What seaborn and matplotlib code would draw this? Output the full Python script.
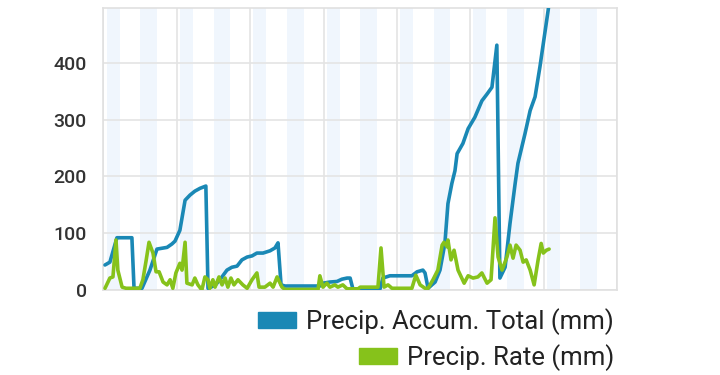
import matplotlib
matplotlib.use('Agg')
import matplotlib.pyplot as plt
from matplotlib.patches import Patch
import pandas as pd
import seaborn as sns

# hours since start of the week
accum_hours = [0.5, 2.1, 4.4, 9.3, 10.0, 12.6, 15.2, 17.5, 20.8, 22.4, 23.4, 25.0, 26.7, 28.3,
               29.9, 31.6, 33.5, 34.2, 36.5, 38.1, 40.4, 42.0, 43.7, 45.3, 47.0, 48.6, 50.2,
               52.2, 54.5, 56.1, 57.1, 58.1, 59.4, 70.8, 71.8, 74.1, 76.4, 78.0, 79.7, 80.7,
               81.6, 90.5, 91.4, 93.7, 100.9, 102.6, 104.5, 105.2, 106.2, 108.5, 110.1, 111.7,
               112.7, 114.0, 115.0, 115.7, 117.6, 119.3, 121.5, 123.8, 125.5, 127.1, 128.7,
               129.7, 131.4, 133.0, 134.7, 135.6, 137.9, 139.6, 141.2, 142.8, 145.5, 146.4]
accum_total = [44, 49, 92, 92, 3, 3, 35, 72, 75, 81, 86, 105, 158, 167,
               174, 179, 183, 3, 8, 18, 35, 40, 42, 53, 58, 60, 65,
               65, 69, 74, 83, 9, 7, 7, 12, 14, 15, 19, 21, 21,
               2, 2, 21, 25, 25, 32, 35, 30, 3, 14, 35, 82,
               152, 188, 210, 240, 258, 284, 304, 333, 345, 357, 431,
               21, 40, 117, 188, 223, 275, 316, 340, 393, 493, 530]

rate_hours = [0.5, 2.1, 3.1, 4.1, 4.7, 6.1, 7.4, 11.9, 12.9, 13.9, 14.9, 16.2, 17.2, 18.2,
              19.5, 20.8, 21.8, 22.7, 23.7, 25.0, 25.7, 26.7, 27.3, 29.0, 29.9, 30.9, 32.2,
              33.2, 34.2, 34.8, 35.8, 36.5, 37.8, 38.8, 39.8, 40.7, 41.7, 42.7, 44.0, 45.6,
              47.0, 48.6, 50.2, 50.9, 52.8, 54.5, 55.5, 56.8, 58.4, 59.4, 70.2, 70.8, 71.8,
              73.1, 74.1, 75.7, 76.7, 78.3, 79.7, 83.3, 84.0, 89.8, 90.8, 91.8, 93.1, 94.4,
              100.9, 102.2, 103.6, 105.2, 106.2, 107.8, 109.4, 110.8, 111.4, 112.4, 112.7,
              113.7, 114.7, 116.0, 118.0, 119.3, 120.9, 122.5, 123.8, 125.5, 126.8, 128.1,
              129.1, 130.4, 132.0, 133.0, 134.0, 135.0, 136.3, 137.3, 138.3, 139.6, 140.9,
              142.2, 143.2, 143.9, 144.9, 145.8]
precip_rate = [3, 21, 23, 88, 35, 5, 3, 3, 18, 50, 84, 65, 32, 32,
               14, 9, 18, 3, 30, 47, 35, 84, 12, 9, 21, 9, 0,
               23, 18, 3, 18, 5, 23, 9, 21, 5, 21, 9, 18, 9,
               3, 18, 30, 5, 5, 12, 5, 23, 5, 1, 1, 25, 5,
               12, 5, 9, 5, 9, 2, 2, 5, 5, 74, 5, 9, 3,
               3, 26, 9, 3, 3, 18, 35, 79, 84, 76, 88,
               53, 70, 35, 12, 25, 21, 23, 30, 12, 18, 127,
               58, 35, 58, 79, 56, 79, 70, 49, 53, 35, 9,
               53, 82, 65, 70, 72]

labels = ['Precip. Accum. Total (mm)', 'Precip. Rate (mm)']
colors = ['#1a88b5', '#86c21b']
yticks = [0, 100, 200, 300, 400]

accum_df = pd.DataFrame({'hour': accum_hours, 'mm': accum_total})
rate_df = pd.DataFrame({'hour': rate_hours, 'mm': precip_rate})

sns.set_style('white')
plt.rcParams['font.family'] = ['Roboto', 'DejaVu Sans']

fig = plt.figure(figsize=(7.2, 3.75), dpi=100)
ax = fig.add_axes([0.1437, 0.2267, 0.7132, 0.7513])

# night-ish shaded bands
for d in range(7):
    ax.axvspan(24 * d + 1, 24 * d + 5.3, color='#f0f6fd', lw=0, zorder=0)
    ax.axvspan(24 * d + 12, 24 * d + 17.5, color='#f0f6fd', lw=0, zorder=0)

sns.lineplot(data=accum_df, x='hour', y='mm', color=colors[0], lw=2.6, ax=ax, zorder=3)
sns.lineplot(data=rate_df, x='hour', y='mm', color=colors[1], lw=2.6, ax=ax, zorder=4)

ax.set_xlim(0, 168)
ax.set_ylim(0, 496)
ax.set_xticks(range(0, 169, 24))
ax.set_xticklabels([])
ax.set_yticks(yticks)
ax.set_yticklabels([str(t) for t in yticks], fontsize=14, color='#333333', fontweight='medium')
ax.tick_params(length=0, pad=12)
ax.set_xlabel('')
ax.set_ylabel('')
ax.grid(True, color='#e4e4e4', lw=1.2, zorder=1)
ax.set_axisbelow(True)
for s in ax.spines.values():
    s.set_color('#e0e0e0')
    s.set_linewidth(1.2)

for i in range(2):
    h = Patch(color=colors[i])
    leg = fig.legend([h], [labels[i]], loc='center right',
                     bbox_to_anchor=(0.853, 0.142 - i * 0.095), frameon=False,
                     fontsize=18.5, handlelength=1.48, handleheight=0.58,
                     handletextpad=0.4, borderpad=0, borderaxespad=0)
    for t in leg.get_texts():
        t.set_color('#222222')

fig.savefig('out.png', dpi=100)
